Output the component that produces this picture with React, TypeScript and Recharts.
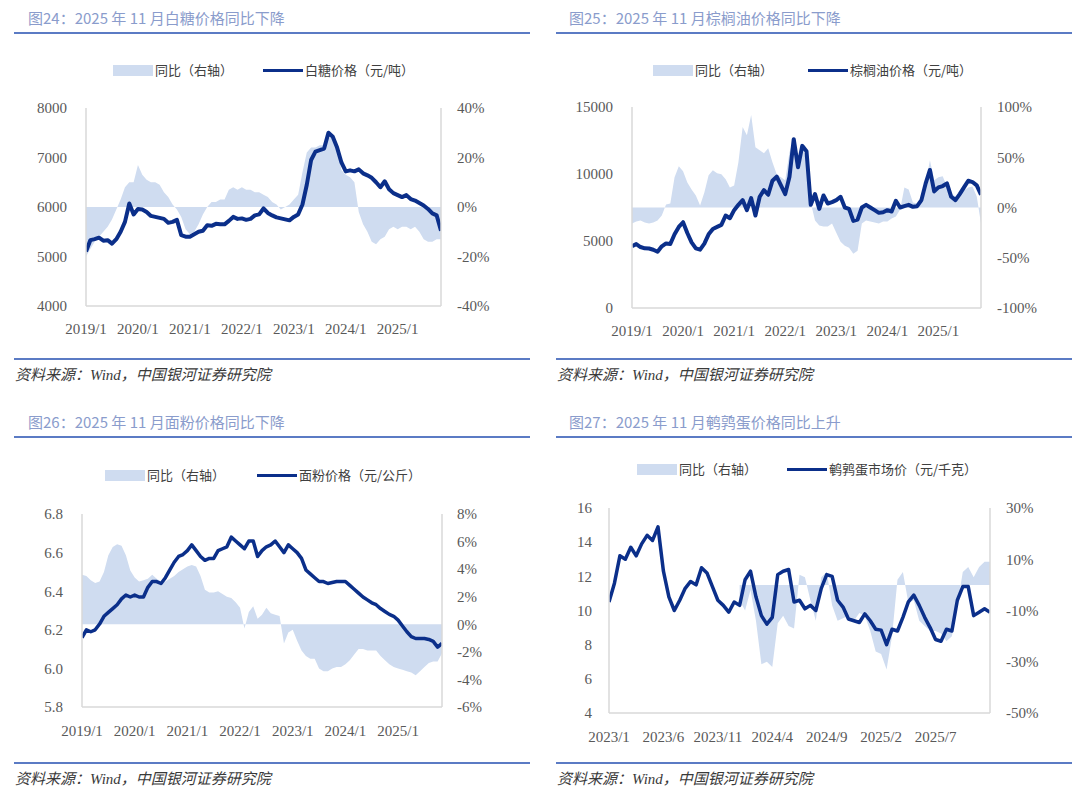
import React from 'react';
import { ComposedChart, Area, Line, XAxis, YAxis } from 'recharts';

// x-axis ticks (month index from the first month of each series)
const yearTicks = [0, 12, 24, 36, 48, 60, 72];
const yearLabels = ['2019/1', '2020/1', '2021/1', '2022/1', '2023/1', '2024/1', '2025/1'];
const quailTicks = [0, 5, 10, 15, 20, 25, 30];
const quailLabels = ['2023/1', '2023/6', '2023/11', '2024/4', '2024/9', '2025/2', '2025/7'];

// 2019/1 - 2025/11, monthly
const sugarPrice = [
  5100, 5330, 5350, 5380, 5320, 5330, 5260, 5350, 5500, 5700,
  6070, 5850, 5960, 5950, 5900, 5820, 5800, 5780, 5760, 5680,
  5700, 5740, 5430, 5400, 5400, 5450, 5500, 5520, 5630, 5620,
  5660, 5650, 5650, 5720, 5800, 5760, 5770, 5740, 5760, 5830,
  5850, 5970, 5880, 5830, 5790, 5770, 5750, 5730, 5800, 5850,
  6050, 6450, 6950, 7120, 7150, 7180, 7500, 7420, 7200, 6900,
  6720, 6740, 6720, 6760, 6680, 6640, 6590, 6500, 6400, 6520,
  6360, 6280, 6240, 6200, 6240, 6160, 6130, 6080, 6030, 5960,
  5870, 5830, 5520,
];
const sugarYoY = [
  -20, -17, -14, -12, -10, -8, -5, -1, 3, 8,
  10, 10, 17, 13, 11, 10, 10, 9, 6, 4,
  1, -1, -4, -9, -11, -10, -7, -3, 0, 2,
  2, 3, 3, 7, 8, 7, 8, 7, 7, 6,
  6, 5, 4, 2, 1, -1, 0, 1, 3, 5,
  14, 22, 24, 24, 25, 25, 28, 28, 24, 15,
  13, 12, 10, -2, -7, -10, -14, -15, -13, -12,
  -9, -8, -9, -8, -8, -9, -8, -10, -13, -14,
  -14, -13, -13,
];

const palmPrice = [
  4620, 4770, 4550, 4450, 4440, 4350, 4200, 4600, 4820, 4780,
  5500, 6050, 6400, 5600, 4900, 4450, 4350, 4800, 5500, 5900,
  6050, 6200, 6900, 6700, 7300, 7700, 8050, 7300, 8200, 6900,
  8300, 8800, 8450, 9500, 9800, 9150, 8500, 9800, 12600, 10500,
  12100, 11700, 7700, 8500, 7400, 8400, 7800, 7900, 8050, 8300,
  7500, 7400, 6500, 6600, 7500, 7700, 7500, 7300, 7100, 7150,
  7300, 7200, 8000, 7500, 7600, 7700, 7550, 7600, 8050, 9300,
  10300, 8700, 9000, 9100, 9300, 8300, 8050, 8500, 9000, 9500,
  9400, 9150, 8450,
];
const palmYoY = [
  -16, -14, -13, -15, -16, -15, -13, -8, 3, 4,
  30, 41, 36, 25, 18, 12, 2, 15, 32, 37,
  34, 33, 28, 20, 22, 45, 80, 72, 92, 60,
  57, 54, 59, 45, 33, 30, 27, 55, 68, 44,
  62, 45, 5, -13, -18, -19, -19, -16, -25, -34,
  -38, -40, -46, -43, -16, -13, -14, -15, -16, -14,
  -14, -11, -9, -2, 20, 18, 5, 4, 10, 24,
  47, 27, 30, 31, 21, 14, 11, 13, 17, 20,
  21, 11, -16,
];

const flourPrice = [
  6.16, 6.2, 6.19, 6.2, 6.23, 6.27, 6.29, 6.31, 6.33, 6.36,
  6.38, 6.37, 6.38, 6.37, 6.37, 6.42, 6.45, 6.45, 6.44, 6.47,
  6.51, 6.55, 6.58, 6.59, 6.61, 6.64, 6.61, 6.58, 6.56, 6.57,
  6.57, 6.61, 6.62, 6.63, 6.68, 6.66, 6.64, 6.62, 6.66, 6.66,
  6.58, 6.61, 6.63, 6.64, 6.66, 6.63, 6.6, 6.64, 6.62, 6.6,
  6.57, 6.51, 6.49, 6.47, 6.45, 6.45, 6.44, 6.445, 6.45, 6.45,
  6.45, 6.43, 6.41, 6.39, 6.37, 6.355, 6.34, 6.33, 6.31, 6.295,
  6.28, 6.27, 6.25, 6.22, 6.19, 6.165, 6.155, 6.155, 6.155, 6.15,
  6.14, 6.11, 6.13,
];
const flourYoY = [
  3.6, 3.5, 3.2, 3.0, 3.1, 3.8, 5.0, 5.6, 5.8, 5.7,
  5.0, 3.9, 3.4, 3.1, 3.2, 3.3, 3.6, 3.3, 3.1, 3.1,
  3.3, 3.5, 3.8, 4.0, 4.2, 4.3, 4.2, 3.5, 2.5, 2.3,
  2.3, 2.4, 2.2, 2.0, 1.9, 1.6, 1.2, -0.3, 0.9, 1.3,
  0.4, 0.7, 1.2, 0.8, 0.7, 0.6, -1.4, -0.6, -0.4, -1.2,
  -1.9, -2.3, -2.5, -2.5, -3.2, -3.4, -3.4, -3.2, -3.1, -3.1,
  -2.9, -2.6, -2.2, -1.8, -1.8, -1.9, -1.9, -1.9, -2.3, -2.6,
  -2.9, -3.1, -3.2, -3.3, -3.4, -3.5, -3.7, -3.4, -3.1, -2.8,
  -2.7, -2.7, -2.1,
];

// 2023/1 - 2025/11, half-month steps
const quailPrice = [
  10.5, 11.6, 13.2, 13.0, 13.7, 13.2, 13.9, 14.4, 14.1, 14.9,
  12.3, 10.8, 10.0, 10.6, 11.3, 11.7, 11.5, 12.5, 12.2, 11.4,
  10.6, 10.3, 9.9, 10.5, 10.3, 11.8, 12.3, 10.8, 9.7, 9.2,
  9.6, 12.1, 12.3, 12.4, 10.5, 10.6, 10.1, 10.3, 10.0, 11.3,
  12.1, 12.0, 10.6, 10.2, 9.5, 9.4, 9.3, 9.8, 9.4, 8.9,
  8.85, 8.0, 8.9, 8.8, 9.6, 10.5, 10.9, 10.3, 9.6, 9.0,
  8.3, 8.2, 8.9, 8.8, 10.6, 11.4, 11.4, 9.7, 9.9, 10.1,
  9.9,
];
const quailYoY = [
  null, null, null, null, null, null, null, null, null, null, null, null,
  null, null, null, null, null, null, null, null, null, null, null, null,
  -6, -10, -2, -14, -31, -30, -32, -15, -12, -16,
  -17, 4, 3, -6, -14, 3, 5, -8, -14, -13,
  -12, -14, -11, -12, -18, -26, -27, -33, -20, 2,
  5, -7, -6, -14, -16, -18, -18, -19, -22, -20,
  -8, 5, 7, 3, 7, 9, 9,
];

const NAVY = '#0b2f8a';
const FILL = '#cfdcf0';
const AXIS = '#d9d9d9';
const BLUE_RULE = '#5b7bc4';
const SANS = '"Noto Sans CJK SC", "Noto Sans", sans-serif';
const SERIF = '"Liberation Serif", "Noto Sans CJK SC", serif';
const tickStyle = { fill: '#595959', fontSize: 15, fontFamily: SERIF };

const pct = (v: number) => `${v}%`;

const sugarData = sugarPrice.map((v, i) => ({ x: i, price: v, yoy: sugarYoY[i] }));
const palmData = palmPrice.map((v, i) => ({ x: i, price: v, yoy: palmYoY[i] }));
const flourData = flourPrice.map((v, i) => ({ x: i, price: v, yoy: flourYoY[i] }));
const quailData = quailPrice.map((v, i) => ({ x: i / 2, price: v, yoy: quailYoY[i] }));

type PanelProps = {
  ox: number;
  oy: number;
  title: string;
  priceName: string;
  legendY: number;
  sw1: number;
  sw2: number;
  chartTop: number;
  marginTop: number;
  leftW: number;
  rightW: number;
  xHeight: number;
  gaps: [number, number, number];
  data: any[];
  xDomain: [number, number];
  xTicks: number[];
  xLabels: string[];
  leftDomain: [number, number];
  leftTicks: number[];
  leftFmt: (v: number) => string;
  rightDomain: [number, number];
  rightTicks: number[];
  lineWidth: number;
  dividerY: number;
};

function Panel(p: PanelProps) {
  const ruleLeft = p.ox === 0 ? 14 : 556;
  const ruleW = 516;
  return (
    <>
      <div
        style={{
          position: 'absolute', left: p.ox === 0 ? 28 : 569, top: p.oy - 11,
          fontFamily: SANS, fontSize: 15, lineHeight: '22px', color: '#8a9ccc', whiteSpace: 'nowrap',
        }}
      >
        {p.title}
      </div>
      <div style={{ position: 'absolute', left: ruleLeft, top: p.oy + 14, width: ruleW, height: 2, background: BLUE_RULE }} />

      <div style={{ position: 'absolute', left: p.sw1, top: p.legendY - 5, width: 40, height: 11, background: FILL }} />
      <div
        style={{
          position: 'absolute', left: p.sw1 + 42, top: p.legendY - 10, lineHeight: '20px',
          fontFamily: SANS, fontSize: 13, color: '#404040', whiteSpace: 'nowrap',
        }}
      >
        同比（右轴）
      </div>
      <div style={{ position: 'absolute', left: p.sw2, top: p.legendY - 1.5, width: 40, height: 3.5, background: NAVY }} />
      <div
        style={{
          position: 'absolute', left: p.sw2 + 42, top: p.legendY - 10, lineHeight: '20px',
          fontFamily: SANS, fontSize: 13, color: '#404040', whiteSpace: 'nowrap',
        }}
      >
        {p.priceName}
      </div>

      <div style={{ position: 'absolute', left: p.ox, top: p.chartTop }}>
        <ComposedChart
          width={540}
          height={260}
          data={p.data}
          margin={{ top: p.marginTop, right: 0, bottom: 0, left: 0 }}
        >
          <XAxis
            dataKey="x"
            type="number"
            domain={p.xDomain}
            ticks={p.xTicks}
            interval={0}
            tickFormatter={(v: number) => p.xLabels[p.xTicks.indexOf(v)]}
            tick={tickStyle}
            tickLine={false}
            tickSize={0}
            tickMargin={p.gaps[2]}
            axisLine={{ stroke: AXIS, strokeWidth: 1.5 }}
            height={p.xHeight}
            allowDataOverflow
          />
          <YAxis
            yAxisId="left"
            domain={p.leftDomain}
            ticks={p.leftTicks}
            interval={0}
            tickFormatter={p.leftFmt}
            tick={tickStyle}
            tickLine={false}
            tickSize={0}
            tickMargin={p.gaps[0]}
            axisLine={{ stroke: AXIS, strokeWidth: 1.5 }}
            width={p.leftW}
            allowDataOverflow
          />
          <YAxis
            yAxisId="right"
            orientation="right"
            domain={p.rightDomain}
            ticks={p.rightTicks}
            interval={0}
            tickFormatter={pct}
            tick={{ ...tickStyle, textAnchor: 'start' }}
            tickLine={false}
            tickSize={0}
            tickMargin={p.gaps[1]}
            axisLine={{ stroke: AXIS, strokeWidth: 1.5 }}
            width={p.rightW}
            allowDataOverflow
          />
          <Area
            yAxisId="right"
            dataKey="yoy"
            type="linear"
            fill={FILL}
            fillOpacity={1}
            stroke="none"
            baseValue={0}
            isAnimationActive={false}
          />
          <Line
            yAxisId="left"
            dataKey="price"
            type="linear"
            stroke={NAVY}
            strokeWidth={p.lineWidth}
            strokeLinejoin="round"
            dot={false}
            isAnimationActive={false}
          />
        </ComposedChart>
      </div>

      <div style={{ position: 'absolute', left: ruleLeft, top: p.dividerY, width: ruleW, height: 1.5, background: BLUE_RULE }} />
      <div
        style={{
          position: 'absolute', left: ruleLeft + 1, top: p.dividerY + 6, lineHeight: '22px',
          fontFamily: SERIF, fontStyle: 'italic', fontSize: 15, color: '#3a3a3a', whiteSpace: 'nowrap',
        }}
      >
        资料来源：Wind，中国银河证券研究院
      </div>
    </>
  );
}

export default function App() {
  return (
    <div style={{ position: 'absolute', left: 0, top: 0, width: 1080, height: 794, background: '#fff', overflow: 'hidden' }}>
      <Panel
        ox={0} oy={18} title="图24：2025 年 11 月白糖价格同比下降" priceName="白糖价格（元/吨）"
        legendY={70} sw1={113} sw2={263}
        chartTop={90} marginTop={18} leftW={86} rightW={99} xHeight={44} gaps={[19, 16, 17]}
        data={sugarData} xDomain={[0, 82]} xTicks={yearTicks} xLabels={yearLabels}
        leftDomain={[4000, 8000]} leftTicks={[4000, 5000, 6000, 7000, 8000]} leftFmt={(v) => String(v)}
        rightDomain={[-40, 40]} rightTicks={[-40, -20, 0, 20, 40]}
        lineWidth={4} dividerY={358}
      />
      <Panel
        ox={540} oy={18} title="图25：2025 年 11 月棕榈油价格同比下降" priceName="棕榈油价格（元/吨）"
        legendY={70} sw1={653} sw2={808}
        chartTop={90} marginTop={17} leftW={92} rightW={99} xHeight={42} gaps={[19, 16, 17]}
        data={palmData} xDomain={[0, 82]} xTicks={yearTicks} xLabels={yearLabels}
        leftDomain={[0, 15000]} leftTicks={[0, 5000, 10000, 15000]} leftFmt={(v) => String(v)}
        rightDomain={[-100, 100]} rightTicks={[-100, -50, 0, 50, 100]}
        lineWidth={4} dividerY={358}
      />
      <Panel
        ox={0} oy={422} title="图26：2025 年 11 月面粉价格同比下降" priceName="面粉价格（元/公斤）"
        legendY={475} sw1={105} sw2={257}
        chartTop={495} marginTop={19} leftW={82} rightW={98} xHeight={48} gaps={[19, 15, 18]}
        data={flourData} xDomain={[0, 82]} xTicks={yearTicks} xLabels={yearLabels}
        leftDomain={[5.8, 6.8]} leftTicks={[5.8, 6.0, 6.2, 6.4, 6.6, 6.8]} leftFmt={(v) => v.toFixed(1)}
        rightDomain={[-6, 8]} rightTicks={[-6, -4, -2, 0, 2, 4, 6, 8]}
        lineWidth={3.5} dividerY={762}
      />
      <Panel
        ox={540} oy={422} title="图27：2025 年 11 月鹌鹑蛋价格同比上升" priceName="鹌鹑蛋市场价（元/千克）"
        legendY={469} sw1={637} sw2={787}
        chartTop={495} marginTop={13} leftW={69} rightW={90} xHeight={42} gaps={[17, 16, 18]}
        data={quailData} xDomain={[0, 35]} xTicks={quailTicks} xLabels={quailLabels}
        leftDomain={[4, 16]} leftTicks={[4, 6, 8, 10, 12, 14, 16]} leftFmt={(v) => String(v)}
        rightDomain={[-50, 30]} rightTicks={[-50, -30, -10, 10, 30]}
        lineWidth={3.5} dividerY={762}
      />
    </div>
  );
}
